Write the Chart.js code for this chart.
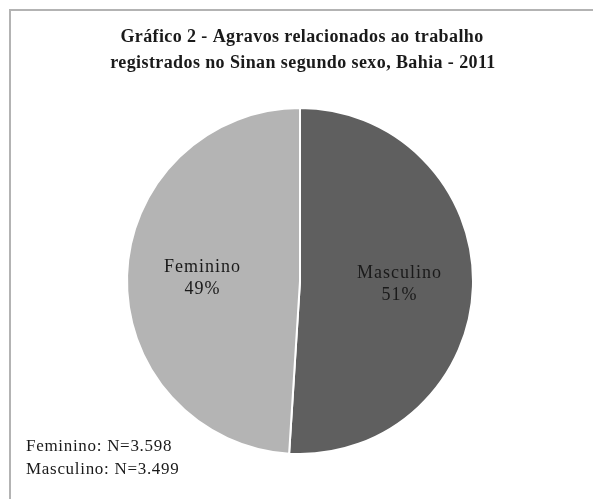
<!DOCTYPE html>
<html>
<head>
<meta charset="utf-8">
<script src="https://cdn.jsdelivr.net/npm/chart.js@4/dist/chart.umd.min.js"></script>
<style>
html,body{margin:0;padding:0;background:#fff;}
#wrap{position:relative;width:593px;height:499px;}
</style>
</head>
<body>
<div id="wrap"><canvas id="c" width="593" height="499"></canvas></div>
<script>
const categories = ["Masculino", "Feminino"];
const percentValues = [51, 49];
const percentLabels = ["51%", "49%"];
const titleLines = ["Gráfico 2 - Agravos relacionados ao trabalho", "registrados no Sinan segundo sexo, Bahia - 2011"];
const noteLines = ["Feminino: N=3.598", "Masculino: N=3.499"];
const sliceColors = ["#5f5f5f", "#b4b4b4"];

const serif = '"Liberation Serif", "Times New Roman", serif';

const decor = {
  id: 'decor',
  beforeDraw(chart) {
    const ctx = chart.ctx;
    ctx.save();
    ctx.fillStyle = '#fff';
    ctx.fillRect(0, 0, chart.width, chart.height);
    ctx.strokeStyle = '#b3b3b3';
    ctx.lineWidth = 2;
    ctx.beginPath();
    ctx.moveTo(10, chart.height);
    ctx.lineTo(10, 10);
    ctx.lineTo(chart.width, 10);
    ctx.stroke();
    ctx.restore();
  },
  afterDraw(chart) {
    const ctx = chart.ctx;
    ctx.save();
    ctx.fillStyle = '#1a1a1a';
    ctx.textAlign = 'center';
    ctx.textBaseline = 'middle';
    ctx.font = 'bold 18px ' + serif;
    ctx.letterSpacing = '0.4px';
    ctx.fillText(titleLines[0], 302, 37);
    ctx.fillText(titleLines[1], 303, 63);

    ctx.font = '18px ' + serif;
    ctx.letterSpacing = '1px';
    const meta = chart.getDatasetMeta(0);
    meta.data.forEach((arc, i) => {
      const p = arc.getProps(['x','y','startAngle','endAngle','outerRadius'], true);
      const mid = (p.startAngle + p.endAngle) / 2;
      const r = p.outerRadius * 0.57;
      const x = p.x + Math.cos(mid) * r;
      const y = p.y + Math.sin(mid) * r;
      ctx.fillText(categories[i], x + 1, y - 11);
      ctx.fillText(percentLabels[i], x + 1, y + 11);
    });

    ctx.textAlign = 'left';
    ctx.font = '17px ' + serif;
    ctx.letterSpacing = '0.7px';
    ctx.fillText(noteLines[0], 26, 447);
    ctx.fillText(noteLines[1], 26, 470);
    ctx.restore();
  }
};

new Chart(document.getElementById('c'), {
  type: 'pie',
  data: {
    labels: categories,
    datasets: [{
      data: percentValues,
      backgroundColor: sliceColors,
      borderColor: '#ffffff',
      borderWidth: 2
    }]
  },
  options: {
    responsive: false,
    animation: false,
    layout: { padding: { top: 107, bottom: 44, left: 126, right: 119 } },
    plugins: {
      legend: { display: false },
      tooltip: { enabled: false },
      title: { display: false }
    }
  },
  plugins: [decor]
});
</script>
</body>
</html>
